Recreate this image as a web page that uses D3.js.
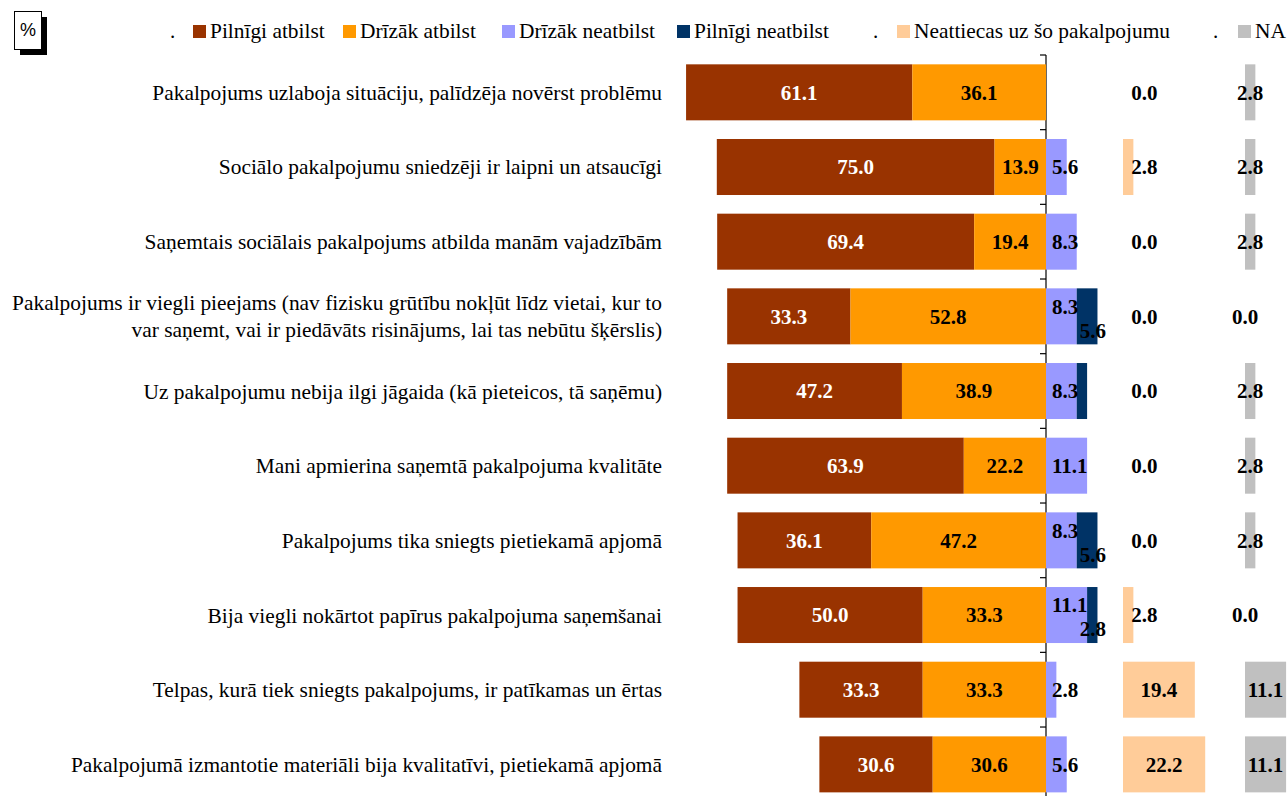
<!DOCTYPE html>
<html><head><meta charset="utf-8">
<script src="https://cdn.jsdelivr.net/npm/d3@7"></script>
<style>html,body{margin:0;padding:0;background:#fff;}</style>
</head><body>
<script>
const categories = [
  ["Pakalpojums uzlaboja situāciju, palīdzēja novērst problēmu"],
  ["Sociālo pakalpojumu sniedzēji ir laipni un atsaucīgi"],
  ["Saņemtais sociālais pakalpojums atbilda manām vajadzībām"],
  ["Pakalpojums ir viegli pieejams (nav fizisku grūtību nokļūt līdz vietai, kur to", "var saņemt, vai ir piedāvāts risinājums, lai tas nebūtu šķērslis)"],
  ["Uz pakalpojumu nebija ilgi jāgaida (kā pieteicos, tā saņēmu)"],
  ["Mani apmierina saņemtā pakalpojuma kvalitāte"],
  ["Pakalpojums tika sniegts pietiekamā apjomā"],
  ["Bija viegli nokārtot papīrus pakalpojuma saņemšanai"],
  ["Telpas, kurā tiek sniegts pakalpojums, ir patīkamas un ērtas"],
  ["Pakalpojumā izmantotie materiāli bija kvalitatīvi, pietiekamā apjomā"]
];
const pilnigiAtbilst   = [61.1, 75.0, 69.4, 33.3, 47.2, 63.9, 36.1, 50.0, 33.3, 30.6];
const drizakAtbilst    = [36.1, 13.9, 19.4, 52.8, 38.9, 22.2, 47.2, 33.3, 33.3, 30.6];
const drizakNeatbilst  = [0, 5.6, 8.3, 8.3, 8.3, 11.1, 8.3, 11.1, 2.8, 5.6];
const pilnigiNeatbilst = [0, 0, 0, 5.6, 2.8, 0, 5.6, 2.8, 0, 0];
const pilnigiNeatbilstLabelShown = [false, false, false, true, false, false, true, true, false, false];
const neattiecas       = [0.0, 2.8, 0.0, 0.0, 0.0, 0.0, 0.0, 2.8, 19.4, 22.2];
const naValues         = [2.8, 2.8, 2.8, 0.0, 2.8, 2.8, 2.8, 0.0, 11.1, 11.1];
const legendNames = ["Pilnīgi atbilst", "Drīzāk atbilst", "Drīzāk neatbilst", "Pilnīgi neatbilst", "Neattiecas uz šo pakalpojumu", "NA"];
const colors = ["#993300", "#FF9900", "#9999FF", "#003366", "#FFCC99", "#C0C0C0"];

const SERIF = "'Liberation Serif', 'Times New Roman', serif";
const SANS = "'Liberation Sans', Arial, sans-serif";
const W = 1288, H = 796;
const svg = d3.select("body").append("svg").attr("width", W).attr("height", H);

const k = 3.703; // px per percent
const axisX = 1046;
const x = d3.scaleLinear().domain([-100, 100]).range([axisX - 100 * k, axisX + 100 * k]);
const xN = d3.scaleLinear().domain([0, 100]).range([1123, 1123 + 100 * k]);
const xNA = d3.scaleLinear().domain([0, 100]).range([1245, 1245 + 100 * k]);
const y = d3.scaleBand().domain(d3.range(categories.length)).range([55, 55 + 74.67 * 10]).paddingInner(0.25).paddingOuter(0.125);

const fmt = d3.format(".1f");
const lblFont = 21;
const catFont = 21.4;

const axisG = svg.append("g");
axisG.append("line").attr("x1", axisX).attr("x2", axisX).attr("y1", 55).attr("y2", H)
  .attr("stroke", "#000").attr("stroke-width", 1.2);
d3.range(categories.length + 1).forEach(i => {
  const yy = 55 + i * 74.67;
  axisG.append("line").attr("x1", axisX - 6).attr("x2", axisX).attr("y1", yy).attr("y2", yy)
    .attr("stroke", "#000").attr("stroke-width", 1.2);
});

const rows = svg.append("g");
function lbl(g, tx, ty, txt, fill) {
  return g.append("text").attr("x", tx).attr("y", ty).attr("dy", "0.35em").attr("text-anchor", "middle")
    .style("font-family", SERIF).style("font-weight", "bold").style("font-size", lblFont + "px")
    .attr("fill", fill || "#000").text(txt);
}
categories.forEach((cat, i) => {
  const y0 = y(i), bh = y.bandwidth(), cy = y0 + bh / 2;
  const g = rows.append("g");
  const a1 = pilnigiAtbilst[i], a2 = drizakAtbilst[i];
  g.append("rect").attr("x", x(-(a1 + a2))).attr("width", x(0) - x(-a1)).attr("y", y0).attr("height", bh).attr("fill", colors[0]);
  g.append("rect").attr("x", x(-a2)).attr("width", x(0) - x(-a2)).attr("y", y0).attr("height", bh).attr("fill", colors[1]);
  lbl(g, x(-(a2 + a1 / 2)), cy, fmt(a1), "#fff");
  lbl(g, x(-a2 / 2), cy, fmt(a2));
  const n1 = drizakNeatbilst[i], n2 = pilnigiNeatbilst[i];
  if (n1 > 0) g.append("rect").attr("x", x(0)).attr("width", x(n1) - x(0)).attr("y", y0).attr("height", bh).attr("fill", colors[2]);
  if (n2 > 0) g.append("rect").attr("x", x(n1)).attr("width", x(n1 + n2) - x(n1)).attr("y", y0).attr("height", bh).attr("fill", colors[3]);
  const both = n2 > 0 && pilnigiNeatbilstLabelShown[i];
  if (n1 > 0) {
    const t = lbl(g, 0, cy + (both ? -10 : 0), fmt(n1));
    const tw = t.node().getComputedTextLength();
    t.attr("x", Math.max((x(0) + x(n1)) / 2 + 3, x(0) + tw / 2 + 6));
  }
  if (both) {
    lbl(g, x(n1 + n2) + 8.5, cy + 14, fmt(n2)).attr("text-anchor", "end");
  }
  const nv = neattiecas[i];
  if (nv > 0) g.append("rect").attr("x", xN(0)).attr("width", xN(nv) - xN(0)).attr("y", y0).attr("height", bh).attr("fill", colors[4]);
  lbl(g, Math.max(xN(nv / 2), xN(5.8)), cy, fmt(nv));
  const av = naValues[i];
  if (av > 0) g.append("rect").attr("x", xNA(0)).attr("width", xNA(av) - xNA(0)).attr("y", y0).attr("height", bh).attr("fill", colors[5]);
  lbl(g, xNA(av / 2), cy, fmt(av));
  const lh = 27;
  const n = cat.length;
  cat.forEach((line, j) => {
    svg.append("text").attr("x", 662).attr("y", cy + (j - (n - 1) / 2) * lh).attr("dy", "0.35em")
      .attr("text-anchor", "end").style("font-family", SERIF).style("font-size", catFont + "px")
      .attr("fill", "#000").text(line);
  });
});

const pg = svg.append("g");
pg.append("rect").attr("x", 20).attr("y", 17).attr("width", 27).attr("height", 38).attr("fill", "#000");
pg.append("rect").attr("x", 14.5).attr("y", 11.5).attr("width", 27).attr("height", 38).attr("fill", "#fff").attr("stroke", "#000").attr("stroke-width", 1);
pg.append("text").attr("x", 28).attr("y", 30).attr("dy", "0.35em").attr("text-anchor", "middle")
  .style("font-family", SANS).style("font-size", "18px").text("%");

const legendY = 31;
const legendItems = [
  {dot: 170, sq: 193, i: 0},
  {sq: 343, i: 1},
  {sq: 502, i: 2},
  {sq: 677, i: 3},
  {dot: 873, sq: 897, i: 4},
  {dot: 1213, sq: 1238, i: 5}
];
const lg = svg.append("g");
legendItems.forEach(d => {
  if (d.dot !== undefined) lg.append("text").attr("x", d.dot).attr("y", legendY).attr("dy", "0.35em")
    .style("font-family", SERIF).style("font-size", "21px").text(".");
  lg.append("rect").attr("x", d.sq).attr("y", legendY - 6).attr("width", 13).attr("height", 13).attr("fill", colors[d.i]);
  lg.append("text").attr("x", d.sq + 17).attr("y", legendY).attr("dy", "0.35em")
    .style("font-family", SERIF).style("font-size", "21.4px").text(legendNames[d.i]);
});
</script>
</body></html>
